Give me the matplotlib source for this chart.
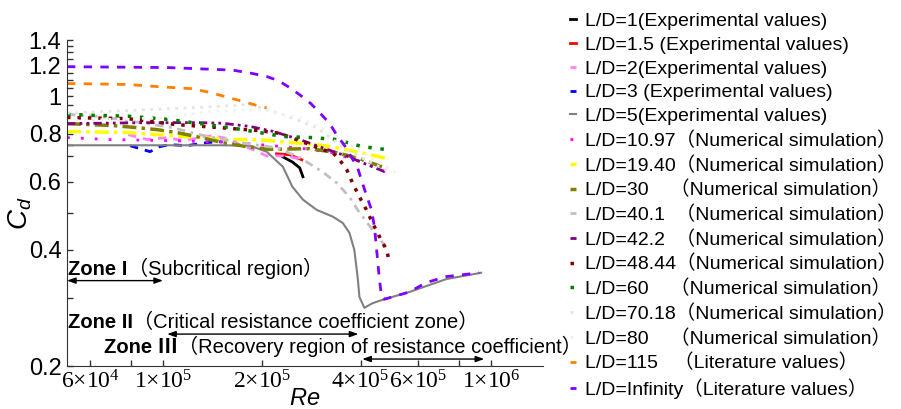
import matplotlib
matplotlib.use('Agg')
import matplotlib.pyplot as plt
from matplotlib.ticker import FixedLocator, FixedFormatter, NullFormatter

plt.rcParams['font.family'] = ['Liberation Sans', 'Noto Sans CJK SC', 'DejaVu Sans']
plt.rcParams['mathtext.fontset'] = 'custom'
plt.rcParams['mathtext.rm'] = 'Liberation Serif'
plt.rcParams['mathtext.it'] = 'Liberation Sans:italic'

# ---- data ----
re_ld1 = [2.32e5, 2.48e5, 2.61e5, 2.67e5]
cd_ld1 = [0.697, 0.676, 0.653, 0.619]

re_ld15 = [2.22e5, 2.43e5, 2.65e5]
cd_ld15 = [0.710, 0.706, 0.685]

re_ld2 = [7.83e4, 8.94e4, 1.03e5, 1.15e5, 1.41e5, 1.58e5, 1.71e5, 1.88e5, 2.07e5, 2.35e5, 2.55e5, 2.67e5]
cd_ld2 = [0.796, 0.773, 0.782, 0.768, 0.791, 0.777, 0.750, 0.728, 0.701, 0.701, 0.692, 0.676]

re_ld3 = [7.94e4, 8.51e4, 9.13e4, 9.79e4, 1.05e5, 1.18e5, 1.36e5, 1.52e5]
cd_ld3 = [0.745, 0.732, 0.719, 0.741, 0.750, 0.745, 0.759, 0.764]

re_ld5 = [5.1e4, 1.0e5, 1.5e5, 1.84e5, 2.07e5, 2.32e5, 2.48e5, 2.67e5, 2.94e5, 3.29e5, 3.53e5,
          3.70e5, 3.83e5, 3.92e5, 3.97e5, 4.11e5, 4.35e5, 4.73e5, 5.63e5, 7.3e5, 9.33e5]
cd_ld5 = [0.747, 0.747, 0.747, 0.745, 0.719, 0.657, 0.583, 0.540, 0.508, 0.488, 0.470,
          0.443, 0.400, 0.340, 0.302, 0.283, 0.291, 0.298, 0.311, 0.336, 0.349]

re_ld1097 = [5.1e4, 6.9e4, 1.05e5, 1.66e5, 2.32e5, 2.70e5, 3.27e5, 4.05e5, 4.83e5]
cd_ld1097 = [0.782, 0.773, 0.768, 0.759, 0.741, 0.732, 0.715, 0.676, 0.634]

re_ld1940 = [5.1e4, 7.78e4, 9.59e4, 1.29e5, 1.57e5, 1.93e5, 2.48e5, 2.94e5, 3.38e5, 3.89e5, 4.47e5, 4.83e5]
cd_ld1940 = [0.811, 0.806, 0.796, 0.782, 0.773, 0.773, 0.759, 0.750, 0.736, 0.719, 0.700, 0.690]

re_ld30 = [5.1e4, 7.05e4, 8.34e4, 9.59e4, 1.10e5, 1.29e5, 1.52e5, 1.80e5, 2.11e5, 2.80e5, 3.38e5, 3.97e5, 4.47e5, 4.8e5]
cd_ld30 = [0.850, 0.840, 0.830, 0.820, 0.806, 0.784, 0.759, 0.741, 0.729, 0.732, 0.715, 0.690, 0.665, 0.652]

re_ld401 = [5.1e4, 6.44e4, 1.07e5, 1.29e5, 1.71e5, 2.22e5, 2.61e5, 3.06e5, 3.38e5, 3.70e5, 3.92e5, 4.35e5, 4.80e5]
cd_ld401 = [0.898, 0.887, 0.830, 0.796, 0.759, 0.736, 0.694, 0.638, 0.597, 0.549, 0.508, 0.451, 0.405]

re_ld422 = [5.1e4, 8.94e4, 1.29e5, 1.52e5, 1.84e5, 2.16e5, 2.61e5, 3.06e5, 3.63e5, 4.35e5, 4.83e5]
cd_ld422 = [0.850, 0.855, 0.855, 0.852, 0.836, 0.812, 0.773, 0.736, 0.700, 0.657, 0.634]

re_ld4844 = [5.1e4, 7.78e4, 1.10e5, 1.32e5, 1.60e5, 1.97e5, 2.27e5, 2.55e5, 2.80e5, 3.06e5, 3.29e5,
             3.45e5, 3.63e5, 3.78e5, 3.97e5, 4.17e5, 4.35e5, 4.57e5, 4.80e5, 4.87e5]
cd_ld4844 = [0.881, 0.876, 0.845, 0.836, 0.826, 0.815, 0.802, 0.773, 0.750, 0.728, 0.715,
             0.686, 0.646, 0.597, 0.549, 0.508, 0.470, 0.433, 0.400, 0.381]

re_ld60 = [5.1e4, 7.94e4, 1.05e5, 1.23e5, 1.60e5, 1.97e5, 2.32e5, 2.86e5, 3.38e5, 4.05e5, 4.8e5, 4.9e5]
cd_ld60 = [0.898, 0.888, 0.871, 0.855, 0.830, 0.806, 0.787, 0.782, 0.773, 0.741, 0.728, 0.719]

re_ld7018 = [5.1e4, 9.13e4, 1.46e5, 1.84e5, 2.32e5, 2.94e5, 3.70e5, 4.9e5]
cd_ld7018 = [0.905, 0.924, 0.942, 0.953, 0.898, 0.830, 0.719, 0.638]

re_ld80 = [5.1e4, 1.0e5, 1.4e5, 2.0e5, 2.6e5, 3.3e5, 4.0e5, 5.2e5]
cd_ld80 = [0.865, 0.880, 0.915, 0.925, 0.880, 0.800, 0.720, 0.630]

re_ld115 = [5.1e4, 7.78e4, 9.8e4, 1.23e5, 1.39e5, 1.60e5, 1.80e5, 1.97e5, 2.07e5]
cd_ld115 = [1.080, 1.074, 1.059, 1.047, 1.024, 0.991, 0.964, 0.943, 0.934]

re_inf = [5.1e4, 1.03e5, 1.63e5, 1.88e5, 2.07e5, 2.24e5, 2.43e5, 2.63e5, 2.82e5, 3.02e5, 3.22e5,
          3.38e5, 3.58e5, 3.92e5, 4.05e5, 4.32e5, 4.41e5, 4.50e5, 4.57e5, 4.64e5, 4.73e5,
          5.63e5, 6.34e5, 7.3e5, 9.2e5]
cd_inf = [1.194, 1.188, 1.170, 1.146, 1.126, 1.100, 1.055, 1.005, 0.959, 0.903, 0.851,
          0.796, 0.745, 0.653, 0.597, 0.508, 0.459, 0.384, 0.334, 0.302, 0.298,
          0.311, 0.329, 0.341, 0.349]

labels = [
    'L/D=1(Experimental values)',
    'L/D=1.5 (Experimental values)',
    'L/D=2(Experimental values)',
    'L/D=3 (Experimental values)',
    'L/D=5(Experimental values)',
    'L/D=10.97（Numerical simulation）',
    'L/D=19.40（Numerical simulation）',
    'L/D=30    （Numerical simulation）',
    'L/D=40.1  （Numerical simulation）',
    'L/D=42.2  （Numerical simulation）',
    'L/D=48.44（Numerical simulation）',
    'L/D=60    （Numerical simulation）',
    'L/D=70.18（Numerical simulation）',
    'L/D=80    （Numerical simulation）',
    'L/D=115   （Literature values）',
    'L/D=Infinity（Literature values）',
]

xtick_vals = [6e4, 1e5, 2e5, 4e5, 6e5, 1e6]
xtick_labels = [r'$\mathrm{6{\times}10^{4}}$', r'$\mathrm{1{\times}10^{5}}$', r'$\mathrm{2{\times}10^{5}}$',
                r'$\mathrm{4{\times}10^{5}}$', r'$\mathrm{6{\times}10^{5}}$', r'$\mathrm{1{\times}10^{6}}$']
ytick_vals = [0.2, 0.4, 0.6, 0.8, 1.0, 1.2, 1.4]
ytick_labels = ['0.2', '0.4', '0.6', '0.8', '1', '1.2', '1.4']

# ---- figure ----
fig = plt.figure(figsize=(9.01, 4.09), dpi=100)
ax = fig.add_axes([0.0744, 0.1051, 0.5283, 0.797])

series = [
    (re_ld1, cd_ld1, dict(color='black', lw=2, ls='-')),
    (re_ld15, cd_ld15, dict(color='#FF0000', lw=2, ls='-')),
    (re_ld2, cd_ld2, dict(color='#FF80FF', lw=2, ls=(0, (3, 2.5)))),
    (re_ld3, cd_ld3, dict(color='#0000FF', lw=2, ls=(0, (3, 2.5)))),
    (re_ld5, cd_ld5, dict(color='#808080', lw=1.5, ls='-')),
    (re_ld1097, cd_ld1097, dict(color='#FF00FF', lw=2, ls=(0, (1, 4)))),
    (re_ld1940, cd_ld1940, dict(color='#FFFF00', lw=2.5, ls=(0, (4, 1.5, 1, 1.5)))),
    (re_ld30, cd_ld30, dict(color='#808000', lw=2.5, ls=(0, (4, 1.5, 1, 1.5)))),
    (re_ld401, cd_ld401, dict(color='#C0C0C0', lw=2, ls=(0, (3, 2, 1, 2)))),
    (re_ld422, cd_ld422, dict(color='#800080', lw=2, ls=(0, (3, 1.5, 1, 1.5, 1, 1.5)))),
    (re_ld4844, cd_ld4844, dict(color='#800000', lw=2.5, ls=(0, (1, 2)))),
    (re_ld60, cd_ld60, dict(color='#008000', lw=2.5, ls=(0, (1, 2.5)))),
    (re_ld7018, cd_ld7018, dict(color='#E4E4E4', lw=2, ls=(0, (1, 2)))),
    (re_ld80, cd_ld80, dict(color='#F2F2F2', lw=2, ls=(0, (1, 2)))),
    (re_ld115, cd_ld115, dict(color='#FF8000', lw=2, ls=(0, (3, 3)))),
    (re_inf, cd_inf, dict(color='#8000FF', lw=2, ls=(0, (3, 3)))),
]
handles = []
for (x, y, st), lab in zip(series, labels):
    h, = ax.plot(x, y, label=lab, **st)
    handles.append(h)

ax.set_xscale('log')
ax.set_yscale('log')
ax.set_xlim(5.1e4, 1.44e6)
ax.set_ylim(0.2, 1.4)

ax.xaxis.set_major_locator(FixedLocator(xtick_vals))
ax.xaxis.set_major_formatter(FixedFormatter(xtick_labels))
ax.xaxis.set_minor_locator(FixedLocator([8e4, 8e5]))
ax.xaxis.set_minor_formatter(NullFormatter())
ax.yaxis.set_major_locator(FixedLocator(ytick_vals))
ax.yaxis.set_major_formatter(FixedFormatter(ytick_labels))
ax.yaxis.set_minor_locator(FixedLocator([0.3, 0.5, 0.7, 0.75, 0.85, 0.9, 0.95, 1.05, 1.1, 1.15, 1.25, 1.3, 1.35]))
ax.yaxis.set_minor_formatter(NullFormatter())

ax.tick_params(which='both', direction='in', length=4, width=1, color='#333333')
ax.tick_params(axis='y', labelsize=17, pad=4)
ax.tick_params(axis='x', labelsize=17, pad=3)
for s in ['top', 'right']:
    ax.spines[s].set_visible(False)
for s in ['left', 'bottom']:
    ax.spines[s].set_color('#333333')

ax.set_ylabel(r'$C_d$', fontsize=20)
ax.yaxis.set_label_coords(-0.07, 0.47)
ax.set_xlabel(r'$Re$', fontsize=17, labelpad=-4)

# ---- zone annotations ----
zfs = 14.5
t1 = ax.text(5.15e4, 0.355, 'Zone I', fontsize=zfs, fontweight='bold', va='center')
ax.annotate('（Subcritical region）', xy=(1, 0), xycoords=t1, va='bottom', fontsize=zfs)
t2 = ax.text(5.15e4, 0.260, 'Zone II', fontsize=zfs, fontweight='bold', va='center')
ax.annotate('（Critical resistance coefficient zone）', xy=(1, 0), xycoords=t2, va='bottom', fontsize=zfs)
t3 = ax.text(6.62e4, 0.224, 'Zone Ⅲ', fontsize=zfs, fontweight='bold', va='center')
ax.annotate('（Recovery region of resistance coefficient）', xy=(1, 0), xycoords=t3, va='bottom', fontsize=zfs)

arr = dict(arrowstyle='<|-|>,head_length=0.5,head_width=0.18', color='black', lw=1,
           shrinkA=0, shrinkB=0)
ax.annotate('', xy=(1.0e5, 0.333), xytext=(5.1e4, 0.333), arrowprops=arr, annotation_clip=False)
ax.annotate('', xy=(3.94e5, 0.242), xytext=(1.03e5, 0.242), arrowprops=arr, annotation_clip=False)
ax.annotate('', xy=(9.53e5, 0.2085), xytext=(4.05e5, 0.2085), arrowprops=arr, annotation_clip=False)

fig.legend(handles, labels, loc='upper left', bbox_to_anchor=(0.633, 0.97), frameon=False,
           handlelength=0.3, handletextpad=0.45, labelspacing=0.32, borderpad=0, borderaxespad=0,
           prop=dict(family=['Liberation Sans', 'Noto Sans CJK SC'], size=14.0))

fig.savefig('out.png', dpi=100)
